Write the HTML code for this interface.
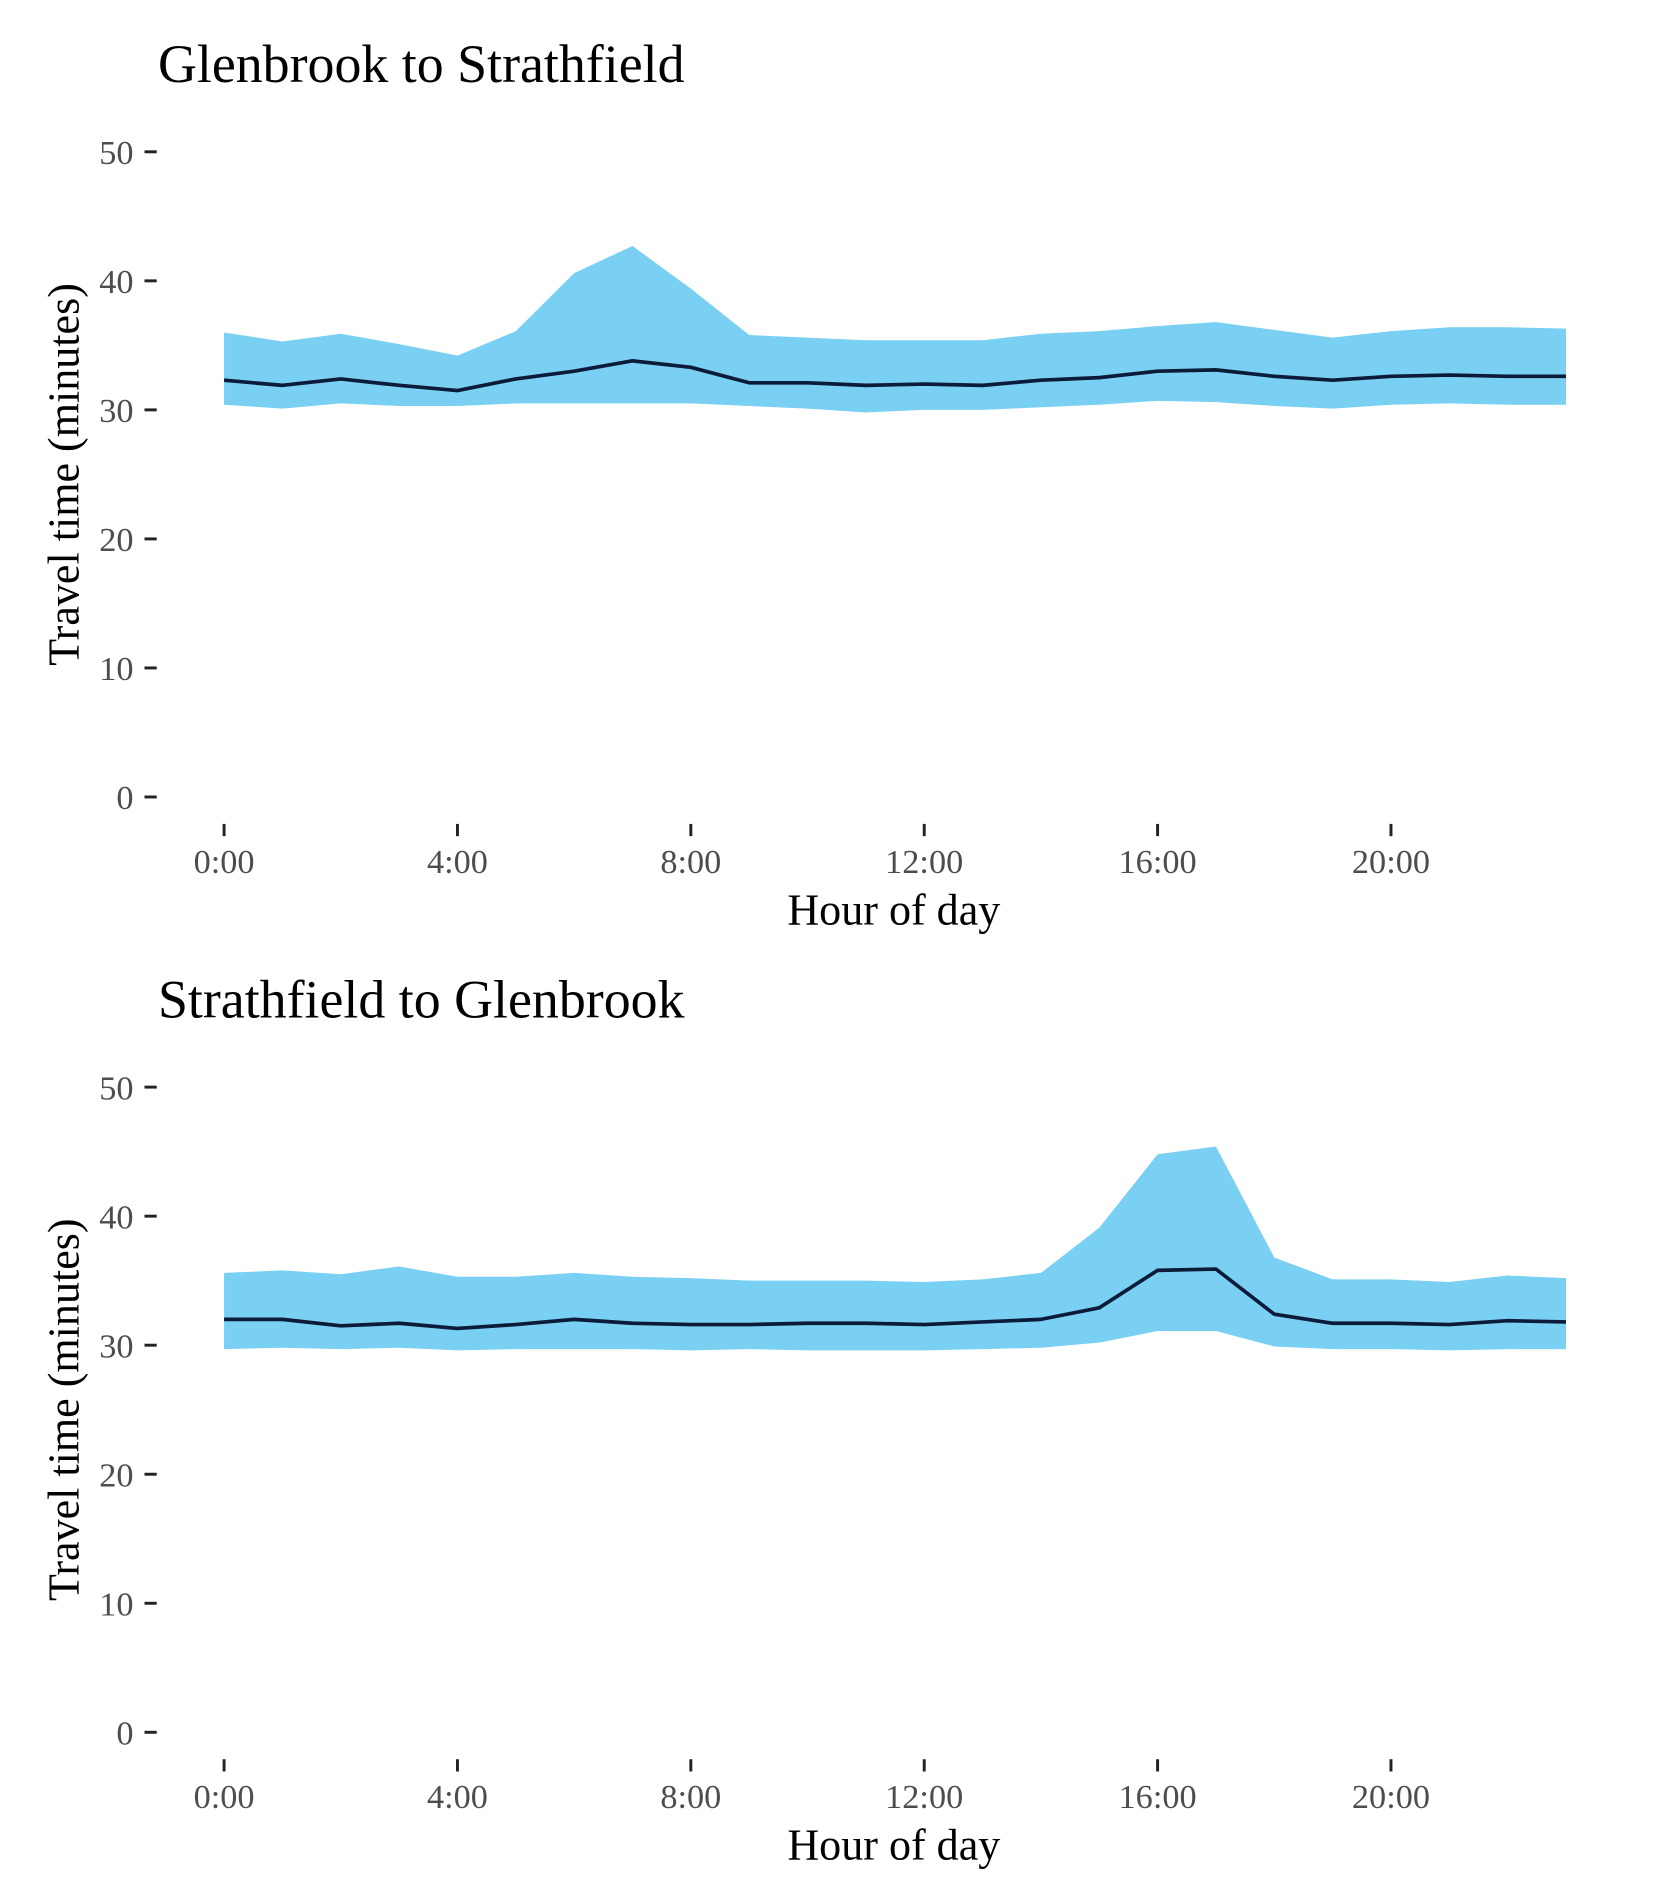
<!DOCTYPE html>
<html><head><meta charset="utf-8"><style>
html,body{margin:0;padding:0;background:#fff}
svg{display:block}
text{font-family:"Liberation Serif",serif}
</style></head><body>
<svg id="chart" width="1653" height="1889" viewBox="0 0 1350 1543" preserveAspectRatio="none"></svg>
<script>
const hours=[0,1,2,3,4,5,6,7,8,9,10,11,12,13,14,15,16,17,18,19,20,21,22,23];
const xTicks=[0,4,8,12,16,20];
const xTickLabels=["0:00","4:00","8:00","12:00","16:00","20:00"];
const yTicks=[0,10,20,30,40,50];
const titles=["Glenbrook to Strathfield","Strathfield to Glenbrook"];
const upper1=[36.0,35.3,35.9,35.1,34.2,36.1,40.6,42.7,39.4,35.8,35.6,35.4,35.4,35.4,35.9,36.1,36.5,36.8,36.2,35.6,36.1,36.4,36.4,36.3];
const lower1=[30.4,30.1,30.5,30.3,30.3,30.5,30.5,30.5,30.5,30.3,30.1,29.8,30.0,30.0,30.2,30.4,30.7,30.6,30.3,30.1,30.4,30.5,30.4,30.4];
const median1=[32.3,31.9,32.4,31.9,31.5,32.4,33.0,33.8,33.3,32.1,32.1,31.9,32.0,31.9,32.3,32.5,33.0,33.1,32.6,32.3,32.6,32.7,32.6,32.6];
const upper2=[35.6,35.8,35.5,36.1,35.3,35.3,35.6,35.3,35.2,35.0,35.0,35.0,34.9,35.1,35.6,39.1,44.8,45.4,36.8,35.1,35.1,34.9,35.4,35.2];
const lower2=[29.7,29.8,29.7,29.8,29.6,29.7,29.7,29.7,29.6,29.7,29.6,29.6,29.6,29.7,29.8,30.2,31.1,31.1,29.9,29.7,29.7,29.6,29.7,29.7];
const median2=[32.0,32.0,31.5,31.7,31.3,31.6,32.0,31.7,31.6,31.6,31.7,31.7,31.6,31.8,32.0,32.9,35.8,35.9,32.4,31.7,31.7,31.6,31.9,31.8];

const NS="http://www.w3.org/2000/svg";
const svg=document.getElementById('chart');
function mk(tag,attrs,parent){const e=document.createElementNS(NS,tag);for(const k in attrs)e.setAttribute(k,attrs[k]);(parent||svg).appendChild(e);return e;}
const xScale=h=>183+h*(1136-183)/20;
function panel(i,off,up,lo,med){
  const y0=651+off, yScale=v=>y0-v*10.54;
  const g=mk('g',{});
  
  
  const t=mk('text',{x:129,y:67+off,'font-size':44,fill:'#000'},g);t.textContent=titles[i];
  
  
  let d='M'+hours.map((h,j)=>xScale(h)+','+yScale(up[j])).join('L');
  d+='L'+hours.slice().reverse().map((h,k)=>xScale(h)+','+yScale(lo[hours.length-1-k])).join('L')+'Z';
  const band=mk('path',{d:d,fill:'#79d0f2'},g);
  
  
  const line=mk('polyline',{points:hours.map((h,j)=>xScale(h)+','+yScale(med[j])).join(' '),fill:'none',stroke:'#0d1b3a','stroke-width':3,'stroke-linejoin':'round'},g);
  
  
  yTicks.forEach(v=>{
    const y=yScale(v);
    const tk=mk('line',{x1:118,x2:128,y1:y,y2:y,stroke:'#222','stroke-width':2.4},g);
    
    
    const tl=mk('text',{x:109,y:y+10,'font-size':28,fill:'#4d4d4d','text-anchor':'end'},g);tl.textContent=v;
    
    
  });
  xTicks.forEach((h,j)=>{
    const x=xScale(h);
    const tk=mk('line',{x1:x,x2:x,y1:y0+22,y2:y0+32,stroke:'#222','stroke-width':2.4},g);
    
    
    const tl=mk('text',{x:x,y:y0+62,'font-size':28,fill:'#4d4d4d','text-anchor':'middle'},g);tl.textContent=xTickLabels[j];
    
    
  });
  const xl=mk('text',{x:730,y:y0+104,'font-size':36,fill:'#000','text-anchor':'middle'},g);xl.textContent='Hour of day';
  
  
  const yc=yScale(25);
  const yl=mk('text',{x:0,y:0,'font-size':36,fill:'#000','text-anchor':'middle',transform:'translate(64,'+yc+') rotate(-90)'},g);yl.textContent='Travel time (minutes)';
  
  
}
panel(0,0,upper1,lower1,median1);
panel(1,764,upper2,lower2,median2);
</script>
</body></html>
